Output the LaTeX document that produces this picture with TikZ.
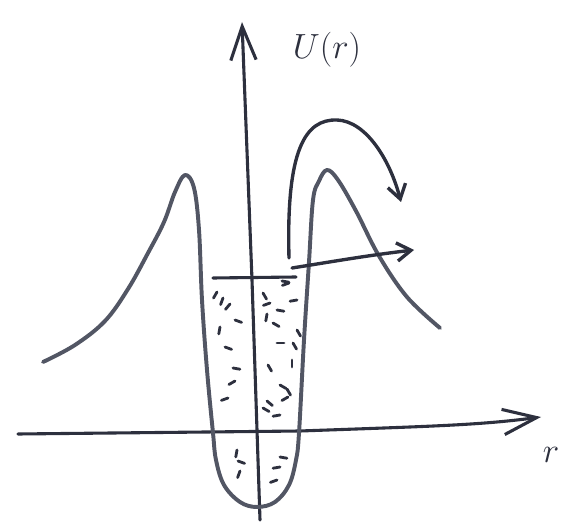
\documentclass[tikz,border=0pt]{standalone}
\usetikzlibrary{arrows.meta}
\definecolor{inkDark}{RGB}{45,48,62}
\definecolor{inkGrey}{RGB}{82,86,100}

\begin{document}
\begin{tikzpicture}[x=0.025cm, y=-0.025cm,
    axis/.style={draw=inkDark, line width=2.2pt, line cap=round,
                 -{Straight Barb[length=24pt, width=18pt, line width=2.2pt]}},
    pot/.style={draw=inkGrey, line width=2.8pt, line cap=round, line join=round},
    flow/.style={draw=inkDark, line width=2.4pt, line cap=round,
                 -{Straight Barb[length=10pt, width=13pt, line width=2.4pt]}},
    grain/.style={draw=inkDark, line width=2pt, line cap=round},
    lab/.style={text=inkDark, font=\fontsize{31}{36}\selectfont}
  ]
  \useasboundingbox (0,0) rectangle (565,530);

  \coordinate (ybot) at (260,520);
  \coordinate (ytop) at (242,22);
  \coordinate (xleft) at (18,434);
  \coordinate (xright) at (541,417);

  \draw[axis] (ybot) -- (252,280) -- (ytop);
  \draw[axis] (xleft) -- (300,431) .. controls (440,426) and (480,425) .. (xright);

  \node[lab] (ulab) at (327,50) {$U(r)$};
  \node[lab, anchor=base] (rlab) at (551,462) {$r$};

  \draw[pot] plot[smooth, tension=0.6] coordinates {
    (43,362) (75,345) (105,321) (128,289) (148,253) (164,222) (175,192)
    (185,175) (194,188) (199,230) (202,300) (207,370) (213,433)
    (216,460) (224,485) (240,502) (257,507) (275,502) (289,485) (296,460)
    (299,433) (304,340) (309,262) (313,200) (319,181) (327,170) (338,180)
    (356,211) (379,256) (407,297) (440,328)};

  \coordinate (lvlL) at (213,278);
  \coordinate (lvlR) at (296,277);
  \draw[grain, line width=2.2pt] (lvlL) -- (lvlR);

  \foreach \px/\py/\pa in {
      217/292/120, 223/298/110, 230/304/130, 235/320/20, 220/327/100,
      225/347/20, 233/368/10, 235/381/150, 228/398/160, 237/450/100,
      238/461/20, 240/471/110, 263/293/60, 270/303/160, 277/310/10,
      297/300/170, 267/314/100, 273/323/30, 297/330/60, 277/343/0,
      293/343/60, 268/365/60, 292/360/90, 280/385/30, 287/389/60,
      267/401/40, 288/397/150, 280/415/170, 263/408/30, 280/457/10,
      280/467/170, 277/480/160, 282/281/10, 289/283/160}
    \draw[grain] (\px,\py) -- ++(\pa:7);

  \coordinate (jump) at (289,258);
  \coordinate (jumpend) at (401,202);
  \coordinate (leak) at (292,268);
  \coordinate (leakend) at (414,250);

  \draw[flow] (jump) .. controls (286,150) and (305,119) .. (337,120)
                     .. controls (366,121) and (390,160) .. (jumpend);
  \draw[flow] (leak) .. controls (330,262) and (370,255) .. (leakend);
\end{tikzpicture}
\end{document}
